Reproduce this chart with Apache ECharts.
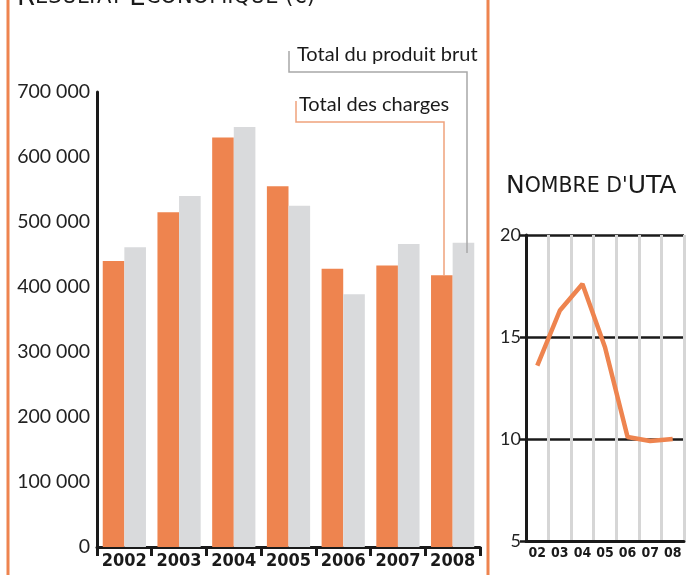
<!DOCTYPE html>
<html>
<head>
<meta charset="utf-8">
<script src="https://cdn.jsdelivr.net/npm/echarts@6/dist/echarts.min.js"></script>
<style>
  html, body { margin: 0; padding: 0; background: #fff; }
  #chart { width: 688px; height: 575px; }
</style>
</head>
<body>
<div id="chart"></div>
<script>
// Résultat économique (€)
const years = ['2002', '2003', '2004', '2005', '2006', '2007', '2008']
const totalCharges = [440000, 515000, 630000, 555000, 428000, 433000, 418000]
const totalProduitBrut = [461000, 540000, 646000, 525000, 389000, 466000, 468000]

// Nombre d'UTA
const utaYears = ['02', '03', '04', '05', '06', '07', '08']
const utaValues = [13.6, 16.3, 17.6, 14.5, 10.1, 9.9, 10.0]

const ORANGE = '#ee844f'
const GREY = '#d9dadc'
const INK = '#1a1a1a'
const LABEL_FONT = 'Lato'
const NUM_FONT = 'DejaVu Sans Condensed'

const chart = echarts.init(document.getElementById('chart'), null, { renderer: 'canvas' })

const option = {
  animation: false,
  backgroundColor: '#fff',
  grid: [
    { left: 97, top: 92, right: 208, bottom: 28 },
    { left: 526, top: 235, right: 4, bottom: 34 }
  ],
  xAxis: [
    {
      type: 'category',
      gridIndex: 0,
      data: years,
      axisLine: { lineStyle: { color: INK, width: 3 } },
      axisTick: { show: true, interval: 0, length: 9, lineStyle: { color: INK, width: 3 } },
      axisLabel: {
        interval: 0,
        color: INK, fontFamily: NUM_FONT, fontWeight: 'bold', fontSize: 18, margin: 5
      }
    },
    {
      type: 'category',
      gridIndex: 1,
      data: utaYears,
      axisLine: { lineStyle: { color: INK, width: 3 } },
      axisTick: { show: false },
      axisLabel: {
        interval: 0,
        color: INK, fontFamily: NUM_FONT, fontWeight: 'bold', fontSize: 14, margin: 5
      },
      splitLine: { show: true, interval: 0, lineStyle: { color: '#d6d6d6', width: 3 } }
    }
  ],
  yAxis: [
    {
      type: 'value',
      gridIndex: 0,
      min: 0,
      max: 700000,
      interval: 100000,
      axisLine: { show: true, lineStyle: { color: INK, width: 3 } },
      axisTick: { show: false },
      splitLine: { show: false },
      axisLabel: {
        color: '#222', fontFamily: LABEL_FONT, fontSize: 19.5, margin: 7,
        formatter: (v) => (v === 0 ? '0' : (v / 1000) + ' 000')
      }
    },
    {
      type: 'value',
      gridIndex: 1,
      min: 5,
      max: 20,
      interval: 5,
      axisLine: { show: true, lineStyle: { color: INK, width: 3 } },
      axisTick: { show: true, length: 6, lineStyle: { color: INK, width: 2.5 } },
      splitLine: { show: true, lineStyle: { color: INK, width: 2.5 } },
      axisLabel: { color: '#222', fontFamily: LABEL_FONT, fontSize: 18, margin: 5 }
    }
  ],
  series: [
    {
      name: 'Total des charges',
      type: 'bar',
      xAxisIndex: 0,
      yAxisIndex: 0,
      data: totalCharges,
      itemStyle: { color: ORANGE },
      barGap: 0,
      barCategoryGap: '21%'
    },
    {
      name: 'Total du produit brut',
      type: 'bar',
      xAxisIndex: 0,
      yAxisIndex: 0,
      data: totalProduitBrut,
      itemStyle: { color: GREY },
      barGap: 0,
      barCategoryGap: '21%'
    },
    {
      name: "Nombre d'UTA",
      type: 'line',
      xAxisIndex: 1,
      yAxisIndex: 1,
      data: utaValues,
      symbol: 'none',
      lineStyle: { color: ORANGE, width: 4.5 },
      z: 5
    }
  ],
  graphic: [
    // panel frame
    { type: 'line', shape: { x1: 8, y1: 0, x2: 8, y2: 575 }, style: { stroke: ORANGE, lineWidth: 3 } },
    { type: 'line', shape: { x1: 488, y1: 0, x2: 488, y2: 575 }, style: { stroke: ORANGE, lineWidth: 3 } },
    // titles
    {
      type: 'text', left: 17, top: -15,
      style: {
        text: '{b|R}{s|ÉSULTAT }{b|É}{s|CONOMIQUE (€)}',
        rich: {
          b: { fontSize: 26, fontFamily: 'DejaVu Sans', fill: INK },
          s: { fontSize: 21, fontFamily: 'DejaVu Sans', fill: INK }
        }
      }
    },
    {
      type: 'text', left: 506, top: 174,
      style: {
        text: "{b|N}{s|OMBRE D'}{b|UTA}",
        rich: {
          b: { fontSize: 25, fontFamily: 'DejaVu Sans', fill: INK },
          s: { fontSize: 20.5, fontFamily: 'DejaVu Sans', fill: INK }
        }
      }
    },
    // legend labels with connectors
    {
      type: 'text', left: 297, top: 45,
      style: { text: 'Total du produit brut', fontFamily: LABEL_FONT, fontSize: 20, fill: INK }
    },
    {
      type: 'polyline', z: 10,
      shape: { points: [[289, 51], [289, 72], [467, 72], [467, 253]] },
      style: { stroke: '#a8a8a8', lineWidth: 1.5, fill: null }
    },
    {
      type: 'text', left: 299, top: 95,
      style: { text: 'Total des charges', fontFamily: LABEL_FONT, fontSize: 20, fill: INK }
    },
    {
      type: 'polyline', z: 10,
      shape: { points: [[296, 101], [296, 122], [444, 122], [444, 276]] },
      style: { stroke: '#f0a27c', lineWidth: 1.5, fill: null }
    }
  ]
}

chart.setOption(option)
</script>
</body>
</html>
